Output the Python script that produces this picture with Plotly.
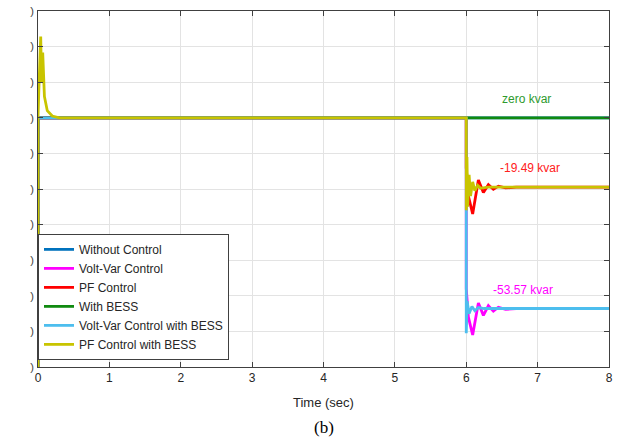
import plotly.graph_objects as go

# ---- data ----
t_without = [0, 0, 8]
v_without = [-70, 0, 0]

t_voltvar = [0, 0, 6.0, 6.0, 6.03, 6.09, 6.17, 6.24, 6.31, 6.38, 6.45, 6.55, 6.7, 8]
v_voltvar = [-70, 0, 0, -48, -56, -61, -52, -55.5, -52.8, -54.3, -53.2, -53.8, -53.57, -53.57]

t_pf = [0, 0, 6.0, 6.0, 6.03, 6.09, 6.17, 6.24, 6.31, 6.38, 6.45, 6.55, 6.7, 8]
v_pf = [-70, 0, 0, -14, -22, -27, -17.5, -21, -18.8, -20.1, -19.2, -19.7, -19.49, -19.49]

t_bess = [0, 0, 8]
v_bess = [-70, 0, 0]

t_vv_bess = [0, 0, 6.0, 6.0, 6.012, 6.04, 6.08, 6.12, 6.17, 6.25, 8]
v_vv_bess = [-70, 0, 0, -60.5, -51.5, -55, -53, -54.2, -53.3, -53.57, -53.57]

t_pf_bess = [0, 0.0, 0.012, 0.038, 0.05, 0.066, 0.09, 0.13, 0.2, 0.3, 6.0, 6.0, 6.01, 6.02, 6.04, 6.06, 6.09, 6.12, 6.16, 6.2, 6.3, 8]
v_pf_bess = [-70, 0, 8, 22.8, 10, 18.3, 6, 2, 0.5, 0, 0, -26, -11, -25, -16, -22, -18, -20.5, -19, -19.8, -19.49, -19.49]

names = ["Without Control", "Volt-Var Control", "PF Control", "With BESS",
         "Volt-Var Control with BESS", "PF Control with BESS"]
colors = ["#0072bd", "#ff00ff", "#ff0000", "#108a10", "#4dbeee", "#c8c400"]
xs = [t_without, t_voltvar, t_pf, t_bess, t_vv_bess, t_pf_bess]
ys = [v_without, v_voltvar, v_pf, v_bess, v_vv_bess, v_pf_bess]

x_ticks = [0, 1, 2, 3, 4, 5, 6, 7, 8]
y_ticks = [-70, -60, -50, -40, -30, -20, -10, 0, 10, 20, 30]

fig = go.Figure()
for x, y, n, c in zip(xs, ys, names, colors):
    fig.add_trace(go.Scatter(x=x, y=y, mode="lines", name=n,
                             line=dict(color=c, width=2.8)))

fig.update_layout(
    width=620, height=438,
    margin=dict(l=38, r=11, t=11, b=71, autoexpand=False),
    paper_bgcolor="white", plot_bgcolor="white",
    font=dict(family="Liberation Sans, Arial", color="#262626", size=12),
    showlegend=True,
    legend=dict(x=0, y=0.02, xanchor="left", yanchor="bottom",
                bgcolor="white", bordercolor="#404040", borderwidth=1,
                font=dict(size=12, color="#262626"),
                tracegroupgap=0, itemwidth=30),
)
fig.update_xaxes(range=[0, 8], tickvals=x_ticks, ticktext=[str(v) for v in x_ticks],
                 showgrid=True, gridcolor="#e3e3e3", gridwidth=1,
                 showline=True, linecolor="#404040", linewidth=1, mirror="ticks",
                 ticks="inside", ticklen=5, tickcolor="#404040", automargin=False,
                 tickfont=dict(size=12), zeroline=False)
fig.update_yaxes(range=[-70, 30], tickvals=y_ticks, ticktext=[")"] * len(y_ticks),
                 showgrid=True, gridcolor="#e3e3e3", gridwidth=1,
                 showline=True, linecolor="#404040", linewidth=1, mirror="ticks",
                 ticks="inside", ticklen=5, tickcolor="#404040", automargin=False,
                 ticklabelstandoff=1,
                 tickfont=dict(size=11, color="#404040"), zeroline=False)

fig.add_annotation(x=6.85, y=0, yshift=19, text="zero kvar", showarrow=False,
                   font=dict(color="#2e9a2e", size=12))
fig.add_annotation(x=6.9, y=-19.49, yshift=19, text="-19.49 kvar", showarrow=False,
                   font=dict(color="#ff2020", size=12))
fig.add_annotation(x=6.8, y=-53.57, yshift=19, text="-53.57 kvar", showarrow=False,
                   font=dict(color="#ff00ff", size=12))

fig.add_annotation(x=0.5, y=-0.101, xref="paper", yref="paper", text="Time (sec)",
                   showarrow=False, font=dict(size=13, color="#262626"),
                   xanchor="center", yanchor="middle")
fig.add_annotation(x=0.5, y=-0.17, xref="paper", yref="paper", text="(b)",
                   showarrow=False, font=dict(family="Liberation Serif, Times New Roman",
                                              size=17, color="black"),
                   xanchor="center", yanchor="middle")

fig.write_html("out.html")
